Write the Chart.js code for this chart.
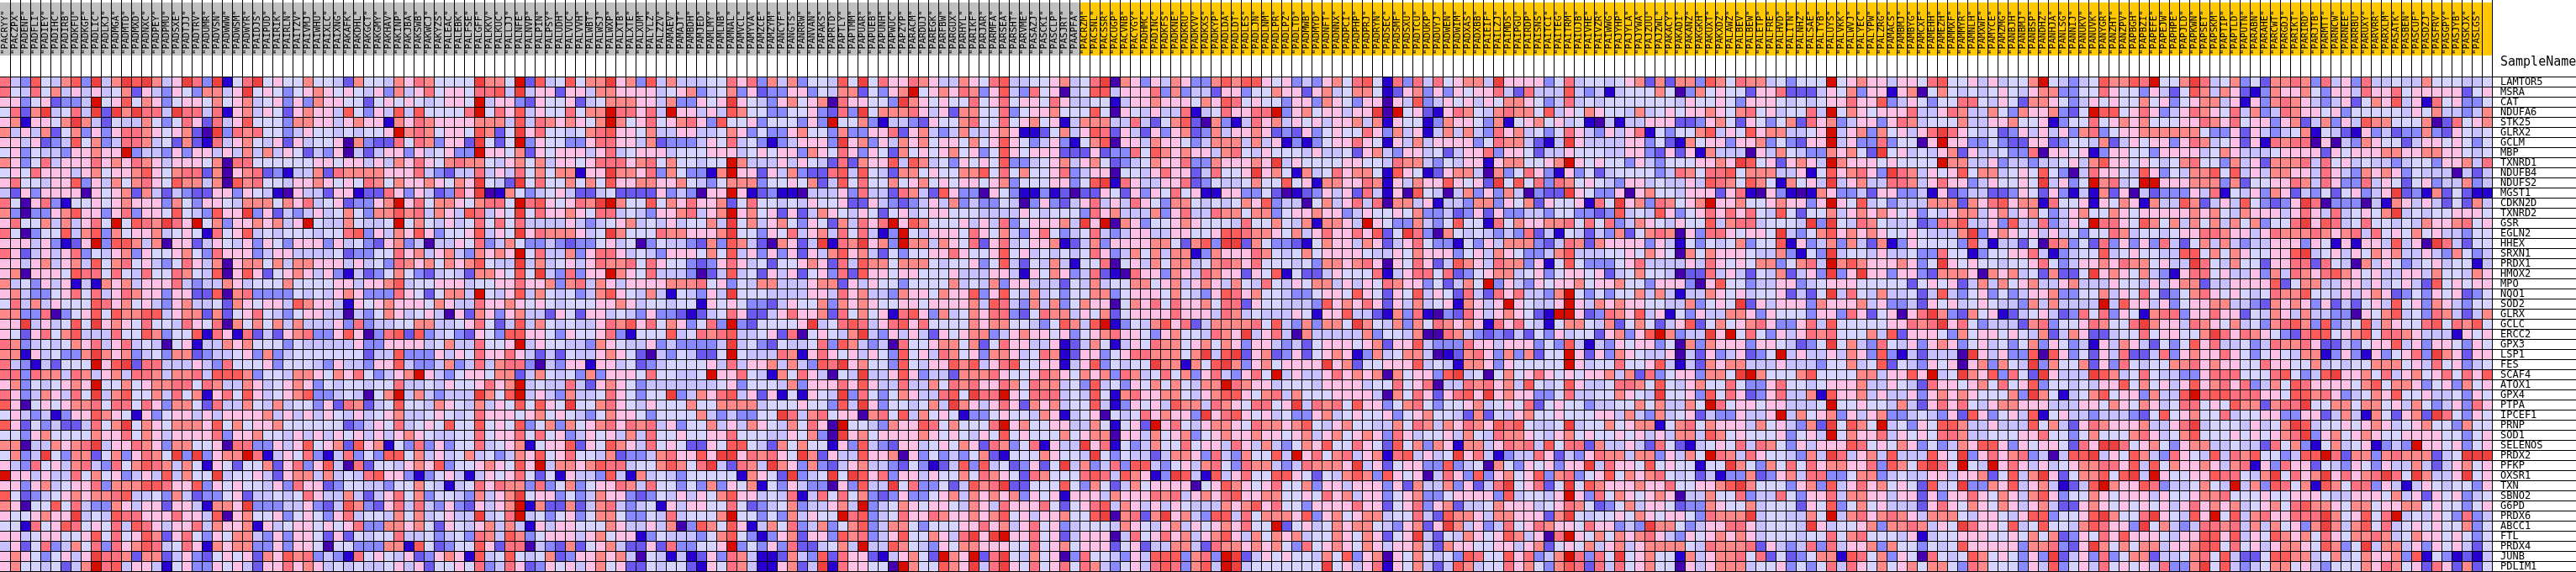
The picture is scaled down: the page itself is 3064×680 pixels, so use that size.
<!DOCTYPE html>
<html>
<head>
<meta charset="utf-8">
<title>Heat map</title>
<script src="https://cdn.jsdelivr.net/npm/chart.js@4/dist/chart.umd.min.js"></script>
<style>
  html, body { margin: 0; padding: 0; background: #fff; }
  canvas { display: block; }
</style>
</head>
<body>
<canvas id="heatmap" width="3064" height="680"></canvas>
<script>
const genes = ['LAMTOR5','MSRA','CAT','NDUFA6','STK25','GLRX2','GCLM','MBP','TXNRD1','NDUFB4','NDUFS2','MGST1','CDKN2D','TXNRD2','GSR','EGLN2','HHEX','SRXN1','PRDX1','HMOX2','MPO','NQO1','SOD2','GLRX','GCLC','ERCC2','GPX3','LSP1','FES','SCAF4','ATOX1','GPX4','PTPA','IPCEF1','PRNP','SOD1','SELENOS','PRDX2','PFKP','OXSR1','TXN','SBNO2','G6PD','PRDX6','ABCC1','FTL','PRDX4','JUNB','PDLIM1'];

const grayNames = 'PACLJN PACRYY PACZPX PADENF PADFLI PADIEY PADIHC PADIRB PADKFU PADKGF PADLIC PADLKJ PADMGA PADMTD PADMXD PADNXC PADPEY PADPMU PADSXE PADTJJ PADTRV PADUMR PADVSN PADWWW PADWSM PADWYR PAIDJS PAIPUD PAIRIK PAIRLN PAITZV PAIVMJ PAIWHU PAIXLC PAIXNG PAKAFK PAKDHL PAKGCT PAKGMY PAKHAV PAKINP PAKJBA PAKSWB PAKWCJ PAKYZS PALEAC PALEBK PALFSE PALGFF PALKKV PALKUC PALLJJ PALNFE PALNVP PALPIN PALPSY PALUDH PALVUC PALVVH PALWBT PALWSJ PALWXP PALXTB PALXTE PALXUM PALYLZ PALZZV PAMAEV PAMAJT PAMBDH PAMJED PAMLMY PAMLNB PAMNAL PAMVCL PAMYVA PAMZCE PAMZYM PANCYF PANGTS PANRRW PANVAN PAPAKS PAPRTD PAPTLY PAPTMM PAPUAR PAPUEB PAPUNH PAPWUC PAPZYP PARACM PARDUJ PAREGK PARFBW PARGUX PARHYL PARIKF PARJAR PARMFA PARSEA PARSHT PARVME PASAZJ PASCKI PASCLP PASJRT'.split(' ');
const yellowNames = 'PAAPFA PACRZM PACSNL PACSSR PACUGP PACVNB PACYGY PADHMC PADINC PADKFS PADKNE PADKRU PADKVV PADKXS PADKYP PADLDA PADLDT PADLES PADLJN PADLNM PADLPR PADLPZ PADLTD PADMWB PADMYD PADNFT PADNNX PADPCI PADPHP PADPRJ PADRYN PADSEC PADSMF PADSXU PADTCU PADUKP PADUYJ PADWEN PADWIM PADXAS PADXBB PAIEIF PAILZJ PAIMDS PAIPGU PAIRDP PAISNS PAITCI PAITEG PAITRM PAIUJB PAIVHE PAIVZR PAIWWG PAJYHP PAJYLA PAJYWA PAJZUU PAJZWL PAKACY PAKADI PAKANZ PAKGKH PAKUXT PAKXDZ PALAWZ PALBEV PALBEW PALETP PALFRE PALHVD PALITN PALNHZ PALSAE PALTYB PALUYS PALVKK PALWVJ PALYEC PALYPW PALZRG PAMACS PAMBMJ PAMBYG PAMCXF PAMEHH PAMEZH PAMMXF PAMMYR PAMNLH PAMXWF PAMYCE PAMZMG PANBJH PANBMJ PANBSP PANDHZ PANHJA PANLSG PANNIJ PANUKV PANUVK PANYGR PANZHT PANZPV PAPBGH PAPBZI PAPEFE PAPEJW PAPHPE PAPJLD PAPKWN PAPSET PAPSKM PAPTIP PAPTLD PAPUTN PARABN PARAHE PARCWT PARGDJ PARIKT PARIRD PARJTB PARMTT PARNCW PARNEE PARRBU PARUXY PARVRR PARXLM PASATK PASBEN PASCUF PASDZJ PASFRV PASGPY PASJYB PASKJX PASLGS'.split(' ');

// colour level per cell, 0 = deepest blue ... b = deepest red.
const levelColors = ['#4500AD','#2700D1','#6B58EF','#8888FF','#C7C1FF','#D5D5FF','#FFC0E5','#FF8989','#FF7080','#FF5A5A','#EF4040','#D60C00'];

const cellsA = [
'843954793a 47a9a746a8 3a158a5655 755427','8548574646 4572643653 7746a56535 676565','663562334b 5695763566 5756745636 376655','5827a4584a 2a7a884a88 4816746526 766495','6716657a74 2544753586 2846955537 766467','7464725736 3688765672 0a38785534 655454','6646234957 3488745272 1846754626 455607',
'5635443667 66b3443636 6464747465 243604','7635846668 6768764666 5708855555 566566','5658666467 5667965788 2706782314 472877','6855466936 4757865977 4709785546 676565','4263666606 5672742432 2663654106 442661','8506831556 5676663753 6654777576 845623','7303367966 3683665954 3966a36243 464575',
'6855747468 5b5987a86b 5736676746 b54475','8503559479 3756674565 1856945455 545589','666463126b 3997470662 4654636536 663645','8624646835 4673655675 3866634664 444523','6646746749 5785643586 4706775747 766646','6706665988 5854855875 4906962567 646314','7453646141 7674666843 4476455575 555664',
'6743356858 4687663662 2907833335 454676','5847465559 8675643674 4527656649 766416','7733803569 5977994677 2725685435 664404','66a464595a 6765855486 5807575747 444638','6526857944 4855973559 1861824267 833696','8734545768 4684540561 4476755535 444446','771645337a 7673453772 3445637345 555555',
'843142555b 69a2884446 4385556355 543644','8838774874 6748874778 4999735547 765768','673545676b 5575677885 8744764567 635455','863476485a 4795574857 1685964567 933454','9605656778 5885863775 2844754745 536287','5643413669 7651635664 6466667464 646546','9625342248 57a5765777 6957566755 555523',
'5536755557 6685764666 6836675546 464656','770447678a 4668763775 5608833646 956729','5734a53772 5736875a3a 3677b81465 831483','6438564784 3857987475 1652557268 369408','b664644857 5634649475 5a45564267 747454','6636745668 3777998669 3656554638 662355','9523456767 7894453742 3356244545 864474',
'7605595843 3764662664 1776a33344 632497','6556766a45 4988666866 4906755635 653684','5518569856 5849864668 4766716456 656568','6645665569 5856972685 3657743636 652625','4625834758 3867984586 1767733636 650553','676535646a 8872772463 2565627697 834318','675545247b 8946641563 3656426686 764545'];

const cellsB = [
'5547687555 5a775b2945 9577a67394 744455','4637468566 58894a4662 6647766664 567345','2565654566 5b46632655 6245777664 733656','3649495555 8b58694655 8577b88684 b66464','6617687666 6777494876 7657b75685 678639','556b787566 59725a6855 4578966574 466445','3228587366 2a525b3655 3368866472 333465',
'2466364563 3b66572656 6646845666 455566','4647686578 7754675746 6568886785 755455','7766684324 4846485757 7166a77683 753317','8757667657 6a542a5855 7575966776 675435','2286364238 6a01753456 4224522226 343066','367b685776 57885b8965 687ab75595 768667','3779784764 98465a5866 7658845436 678467',
'445b575464 5858584444 6434567454 645574','3647696355 69465a6877 7645a75558 776667','3267340446 5834753343 2335645035 443273','3558674674 37676b5844 7368864543 666575','4538767576 79544a4745 6468778586 553236','2357532454 2776595a43 8366b76584 443024','6679455666 4556686673 7847646666 777856',
'3338652577 4b54694754 5347965474 154364','5676665764 4866765654 5556676455 455165','3576456406 2763674426 5266454363 321245','3445577445 6852494754 5446879685 763583','0389293453 2653996653 6556831555 945878','3366664574 48556b4655 4437654463 433334','2449333646 5866864242 5446765204 354225',
'3669433473 4847883043 6616645234 555564','53467b6435 6657724754 5373666585 5445b6','4558445465 56867b4544 8426765344 444445','057b474344 4a759b4643 7445865355 a34768','2459554765 4746595965 a557865465 557557','4567445654 5866656756 5435766535 555743','4658456595 5956593573 7567868784 635574',
'4646765445 5856685856 3465647485 565566','6715383635 5845671566 9265976485 652265','5399574645 7453476956 8554723347 86696a','2554676935 5676596b47 7679884557 9758a4','8966313564 1465685251 6443941745 435555','4435575414 5868773835 7356687485 535373','2468573554 37467a5663 5347663235 464657',
'3268484363 26467b1722 7247843451 646655','5547574564 4a458b4535 6357753354 845557','3377675265 4674741646 6555764464 703975','4558445345 3874973566 6467566135 444357','3377195235 5962880432 7256742262 833556','5654623676 1945954572 3667674054 141263','4456462556 5834862365 6467562254 552165'];

const cellsC = [
'8683747355 495a586687 6447658944 55674','7362336635 47725367b5 6768736943 85604','a654367567 0866553a76 5655856856 65864','9755335563 283a577786 4627755835 66755','5563555363 b557314432 6557855856 75614','7635336755 3733668267 4347446761 12574','8453134666 3a67364767 5665756965 34631',
'6456566376 5863652756 5675635965 66622','b744464654 2827669497 4536565933 45674','b662647322 8949542775 6557795857 55683','7773556572 4958557567 5656656735 55663','b612311044 4638442874 2963306531 13120','2585545465 5622643234 6473433540 36324','b675626247 6546525645 6655544446 54555',
'a574675365 274868b697 5556464835 66674','a553658467 4858413b54 6665865743 68534','974207624a 187a673b77 4765826845 66712','9463636264 7967425355 6686556956 45454','8645255676 2849775777 5455635942 54741','9452646256 3829665665 5564446641 65763','3547744467 7264655355 5574547366 44425',
'a555444466 4867443766 5766936954 74535','6533246557 3767655665 6666749843 74735','8622468667 2857561896 3745768832 58774','b3255556a4 5898468968 5555767755 43597','9445628056 547a436464 2656773467 66563','a453254458 3974340855 6775725866 44612','b544487168 6564653956 4875637764 58712',
'8466747439 8a67553954 6697946895 56614','6854175864 054a446963 4427778655 68765','6355547366 6869644844 7587866875 87745','9462615165 4a38535764 4895a88b65 88845','7774555655 394a635545 74a7646862 76745','43355a8478 5660785947 5651335655 47614','6476547586 0b55437669 8575558b67 55664',
'8555446573 0a67566667 6565465956 55575','9954275755 1639432664 5657628735 81644','a687865a72 6449667063 5343572155 57655','2874a76373 2467443253 1249394523 625a4','517652a345 a5a9683664 6557587652 87555','6571536433 063944a583 3524978a22 55595','9664548148 5857323633 5674767673 65616',
'8523457344 674b345765 6654764866 68525','b553537465 5b89345866 8766767956 46675','9614758347 3579347753 5556686746 85634','9531367266 3978346955 7648a6ab66 85624','b353638224 574b449754 3657766655 85675','8741127439 2866214675 2b76b28a54 75603','874116724a 1866550b75 5976a48a65 85685'];

const cellsD = [
'58a0763647 6337979965 6343675895 18384','5994666837 3442663557 6626745775 12673','4551466766 6576985655 3663765366 06493','5950654644 814586688b 367566466a 0b562','7774484257 9207314867 4656466747 16551','6982642636 7237466762 3263565586 37461','5790664766 5347774746 1313566865 16474',
'2623385976 7664785465 5546445267 43664','6752345766 833766676a 4655556655 48774','4660554686 6248556a67 5174586775 19651','59a1864466 8235445755 9561776687 16476','2265263658 5611663352 0123646284 16095','6846486537 7545457693 4405746848 07746','3867444736 8448775773 5667663465 56573',
'a6b0763556 7655548557 54717764b6 53374','5843466446 6556998776 5746866869 25a83','4736666775 2793aa2753 3215766476 24685','5863475747 7137666875 4575666654 46576','5580564757 7457876855 5453776786 06586','4821086637 6487662659 1522465558 14688','4745577567 4676475485 4657746465 87663',
'5773566657 5436986755 4335665965 26594','7660576858 6675882655 4443967686 26474','6572566668 6664874544 4651669442 17381','49b1354796 8247777859 4373775a75 47375','5678665367 554876a468 4074444473 55470','4751465877 5675763664 3425666567 26694','6635688777 57a49a2672 3625676137 45774',
'6935455a77 1759a73675 6666a67255 66694','7673874585 736843685b 4644686767 07566','3945365757 5477b87664 5554666645 58568','4951786677 5467996578 4755566664 07586','5941365649 7748765885 6a48785966 35785','5605458676 63a6896564 5336745655 63567','4751562b68 5467765877 6795467554 47587',
'6770664756 7356766766 5674675676 38645','a681534755 8566486474 3576955865 29573','4a53544247 7638437559 4b68578467 18946','7348399435 6478538774 3487776a46 25663','898497613a 9419468559 9652547973 96560','3752475666 6056976568 5573664666 36274','6647666878 4676896677 5565867466 35673',
'6894764646 5444767968 5536666866 25683','59a07827a6 7439948577 7693675677 45584','5554765467 465676855b 2564576775 43672','6660485686 7467964757 6745576576 256a4','6662562447 7428776767 5385676576 46674','8554364999 3783ba2465 6554759367 06575','8743564898 3794ba4555 5555a56468 16574'];

const cellsE = [
'856774a666 6358455456 7272773975 87745','6365668428 4449434145 5575037565 52668','4656465776 5348454555 5555465565 36665','1687547877 5946576554 7456566765 78564','3766537156 7564510414 4666223675 26535','4747438674 5358643646 8153557946 59677','6666358774 214a644446 6352175663 66735',
'5246683665 2446555446 6326261744 40647','3546616775 567b656553 6435556676 a9562','2677407358 6316352455 5534875889 57774','696562a595 8387565436 6454464987 59751','4047363740 322a653360 6755466626 81063','1443773657 26556185a6 7387567b66 75567','3423626334 4355332394 5496356868 68549',
'3595518576 6778585834 7654655947 88455','0754543438 2415424372 5787063886 5665a','3315364777 3248727666 6364153545 73559','6635647653 3479444556 5765075766 65447','2497648773 6159533356 8444464865 65773','5823567745 6356656245 7554022846 42547','52475b3643 6566756675 5366630695 53446',
'6528428684 437b535355 7474144765 64556','5617646b65 446b647676 6554473565 a2646','0328646765 21bb623876 9461536447 76365','8767618685 4157754725 7524692575 67863','0874323242 5364552673 69b7344a6b 58536','3338664666 3539414365 6635073766 63665','0127863737 255b626376 5446042634 6235b',
'5417763655 555b645585 5694142767 74446','39a4505756 8656566747 2835663775 ab755','0448786749 5459644588 7595467558 53368','26896a6766 3358445576 54a5563958 62368','3556745658 2565534455 7574475b85 66566','5542725467 5565556647 4374562433 6446b','4768769895 445a455756 7715785766 64756',
'5647548776 5467565565 6464774975 65556','7617746878 4958827446 4285214565 84875','45a6841344 8624368774 7736475b87 48655','3934507536 56366a4866 595655155a 75375','4863936756 9378356957 6785452413 37236','4736248a56 825a597666 7668556679 a7555','3566663945 546b638576 5676044755 83448',
'6724457666 4568752357 4665233765 57455','2977647766 627a545565 7656653877 7a455','6a74634856 8766586634 3a77534668 86455','2547656974 608b657576 7864365676 76455','2766556646 7256574674 6777754877 78264','4539855968 347b8385a5 6755174677 85825','2497455867 5379828485 6755064677 74556'];

const cellsF = [
'3555b56766 4665895564 64557b5434 59779','2224657366 1670575454 5654677335 58655','4545668669 3465355885 4652776534 65655','5584b57656 6684468744 7537667325 b9956','7286734663 6874555744 6675561355 85676','4456b46737 56468a8654 5236464637 83566','3266b46338 35506b6633 5322662355 47246',
'543376752a 5645467264 4533806656 13665','6764b76665 65555b7744 6344344564 79665','4615967863 a874656957 7456595304 86654','7564a46744 8874686634 65565a4635 b7845','1017633426 6334162344 2236526314 17260','6636b65945 3444777276 8967718556 16576','5255746767 6563546774 6746753467 55765',
'54a3a54875 4452387944 6394483465 b8865','4357967676 55654447a3 6765646453 55874','1634737427 1365555394 1442508735 28363','3153a45546 4453385513 5566841345 59456','5784b79766 67635a6565 5455685346 67687','2463a36a66 3663277760 7674527225 a6765','6345666555 5525656247 4756744674 44655',
'2425a48547 4452494356 3534667335 57465','6637666746 3342656456 5443747444 4b496','5536638625 6068a73275 6124564238 58365','3684955555 66878a6853 4442783556 87558','4687855574 9266653756 6565472476 22455','4235a57438 5463676356 4535736534 16476','4644647639 31424440a6 4633909635 26482',
'4443557459 2543656067 3754a37557 26385','5795555774 6696b45a76 93852a6444 a9745','5545666744 6542866567 5856935545 46695','4471966746 4463676765 5573a75145 79566','4445b55655 4742686854 6776664446 65765','4756736467 3345436296 3564915644 34443','4372a5975b 4536599744 6444957426 87666',
'3564b57668 4656588744 5556685535 75557','3646669856 5763534769 9636566528 6aa85','4374a84674 9444965a36 8678340499 a4659','8586776683 9759a85b54 b686464567 78869','7488335773 4544664667 25947a6257 7959a','3673946867 5652945a33 7694674124 9b766','5366847766 4662636686 5764796355 76566',
'5265935756 4442686576 5764674226 76565','4475b47867 8764777546 6546993556 9a755','54a6455673 7787465a86 6594595547 98663','5455857855 5461455666 5565757236 58696','3483846673 7553545966 6663778326 a7575','2357719857 3650854597 565363a246 38357','3535848657 5675775387 5553649356 48565'];

const cellsG = [
'8b557a8457 3527787384 6384454475 55445','3642597476 2137667536 6486685666 66256','7563567746 1637876434 6257694618 56335','8634687658 4734876656 3555554657 44347','7555668768 5663672473 6497755570 28567','7777775336 2643457154 2163423373 26545','5663687456 2618788060 4376552466 56535',
'5366664576 4445666626 5666776677 66545','6545785537 4627778485 6454434553 66748','9635477959 4647766486 4376763544 40424','bb66677737 2556687486 3384652563 44734','4233364815 4637624352 56346a2317 25211','1744972464 953236a803 3304176464 25274','6666676754 7666468648 45657a4545 56665',
'9757475747 573558a698 4585545476 67856','5545668876 6468777876 7848565756 44355','6384257474 3446663651 616649460a 84255','5544995757 655669a456 4657674464 37534','75644a8547 5526688285 4074653456 45514','7431688564 4637487689 7656446647 55476','4646772446 6669257744 6646456429 56566',
'8523578656 5458779554 6467623536 56235','6463566774 4327676362 4256495637 64355','1788366866 2547647443 3065794538 74247','a766487657 4537897393 4594765589 58795','8566557a86 8765328995 6795887644 41656','4253596844 5348778622 4356694636 65365','2483676686 5356547713 631635683a 76266',
'4557786766 5586655745 4557775648 56345','8544336888 555895349a 6675846756 85869','7564696786 8347598666 6579577635 63756','37449b8998 8866599786 3457695564 45365','7645885659 772788a557 7577564753 46386','2595675584 5566336624 741752672a 85365','74468a4555 46457a9455 6567645675 53755',
'8645795556 565678a367 5676556666 55356','6753677445 4428573157 4561343b66 56356','7438654948 79553499b8 2773787772 45aaa','4957667647 8163866254 3653644742 46756','4b65566988 547a5867a6 8678a85a74 46a56','983445754b 4739857197 5883641465 45536','6465567785 5565566654 4666574626 56345',
'6564686767 4567589776 5775667756 55356','8a65496b59 47866888a7 56958b4546 53834','a574348878 47475637a7 4795845656 55735','6654669969 4659767586 5778745766 56535','7746679958 5646776597 35a4774636 56425','7244578594 2259977457 4576673915 31214','648337a594 3457756435 5576875628 62725'];

const sampleNames = grayNames.concat(yellowNames).map(n => '"' + n + '"');
const columnCount = sampleNames.length;

function buildRows() {
    const panels = [cellsA, cellsB, cellsC, cellsD, cellsE, cellsF, cellsG];
    return genes.map((gene, r) => {
        const row = panels.map(p => p[r].replace(/ /g, '')).join('');
        if (row.length !== columnCount) throw new Error('row ' + r + ' has ' + row.length + ' cells');
        return row;
    });
}

const rows = buildRows();

const datasets = rows.map((row, r) => ({
    label: genes[r],
    yAxisID: 'yCells',
    grouped: false,
    barPercentage: 1,
    categoryPercentage: 1,
    borderWidth: 0,
    inflateAmount: 0,
    data: sampleNames.map(() => [r, r + 1]),
    backgroundColor: row.split('').map(c => levelColors[parseInt(c, 16)])
}));

// group band behind the sample names and the header on the right
const headerPlugin = {
    id: 'header',
    beforeDraw(chart) {
        const ctx = chart.ctx;
        const x = chart.scales.x;
        const split = x.getPixelForValue(grayNames.length) - 6;
        ctx.save();
        ctx.fillStyle = '#C0C0C0';
        ctx.fillRect(x.left, 3, split - x.left, 63);
        ctx.fillStyle = '#FFC800';
        ctx.fillRect(split, 3, x.right - split, 63);
        ctx.fillStyle = '#000';
        ctx.font = '15px "DejaVu Sans Mono"';
        ctx.textBaseline = 'alphabetic';
        ctx.fillText('SampleName', 2974, 78);
        ctx.restore();
    }
};

new Chart(document.getElementById('heatmap'), {
    type: 'bar',
    data: { labels: sampleNames, datasets: datasets },
    plugins: [headerPlugin],
    options: {
        responsive: false,
        animation: false,
        events: [],
        layout: { autoPadding: false, padding: { bottom: 1 } },
        plugins: { legend: { display: false }, tooltip: { enabled: false }, title: { display: false } },
        scales: {
            x: {
                position: 'top',
                offset: true,
                afterFit(scale) { scale.height = 91; },
                border: { display: false },
                grid: {
                    offset: true,
                    z: 1,
                    color(c) { return c.index === 0 ? 'rgba(0,0,0,0)' : '#000'; },
                    lineWidth: 1,
                    tickLength: 91,
                    tickColor(c) { return c.index === 0 ? 'rgba(0,0,0,0)' : '#000'; }
                },
                ticks: {
                    autoSkip: false,
                    minRotation: 90,
                    maxRotation: 90,
                    padding: -65,
                    labelOffset: 1,
                    color: '#000',
                    font: { family: '"DejaVu Sans Mono"', size: 11 }
                }
            },
            y: {
                type: 'category',
                labels: genes,
                display: true,
                position: 'right',
                offset: true,
                afterFit(scale) { scale.width = 100; },
                border: { display: false },
                grid: { offset: true, z: 1, color: '#000', lineWidth: 1, tickLength: 100, tickColor: '#000' },
                ticks: {
                    autoSkip: false,
                    padding: -90,
                    labelOffset: 1,
                    color: '#000',
                    font: { family: '"DejaVu Sans Mono"', size: 12 }
                }
            },
            yCells: { type: 'linear', display: false, reverse: true, min: 0, max: genes.length }
        }
    }
});
</script>
</body>
</html>
